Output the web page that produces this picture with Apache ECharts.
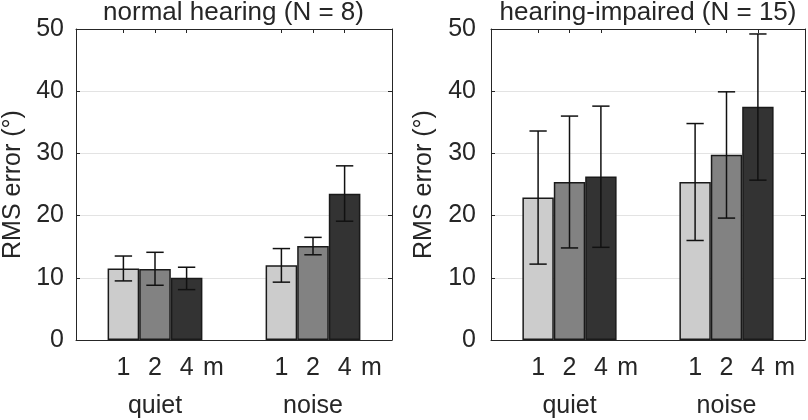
<!DOCTYPE html>
<html>
<head>
<meta charset="utf-8">
<script src="https://cdn.jsdelivr.net/npm/echarts@6/dist/echarts.min.js"></script>
<style>html,body{margin:0;padding:0;background:#fff}#c{width:808px;height:420px}</style>
</head>
<body>
<div id="c"></div>
<script>
// ---- data ----
const conditions = ['quiet', 'noise'];
const distances = ['1', '2', '4'];
const unitLabel = 'm';
const yTicks = [0, 10, 20, 30, 40, 50];
const panelTitles = ['normal hearing (N = 8)', 'hearing-impaired (N = 15)'];
const yAxisTitle = 'RMS error (°)';
// order: quiet 1,2,4 then noise 1,2,4
const nhMean = [11.5, 11.4, 10.0, 12.0, 15.1, 23.5];
const nhLow  = [9.5, 8.8, 8.1, 9.3, 13.7, 19.1];
const nhHigh = [13.5, 14.1, 11.7, 14.7, 16.5, 28.0];
const hiMean = [22.9, 25.4, 26.3, 25.4, 29.8, 37.5];
const hiLow  = [12.2, 14.8, 14.9, 16.0, 19.6, 25.7];
const hiHigh = [33.6, 36.0, 37.6, 34.8, 39.9, 49.2];

// ---- styles ----
const FONT = 'Liberation Sans';
const TXT = '#262626';
const barColors = ['#cccccc', '#828282', '#333333'];
const grids = [
  {left: 75, top: 29, width: 317, height: 311},
  {left: 491, top: 29, width: 314, height: 311}
];
const BAR_FRAC = 0.2;   // bar width as fraction of category band
const CAP_FRAC = 0.055; // half cap width as fraction of band

// tick positions in value-space (category i centre = i+1)
const barPos = [];
conditions.forEach((c, ci) => distances.forEach((d, di) => barPos.push(ci + 1 + (di - 1) * BAR_FRAC)));
const labelPos = [];
const labelTxt = [];
conditions.forEach((c, ci) => {
  distances.forEach((d, di) => { labelPos.push(ci + 1 + (di - 1) * BAR_FRAC); labelTxt.push(d); });
  labelPos.push(ci + 1 + 0.37); labelTxt.push(unitLabel);
});
function lookup(v) {
  for (let i = 0; i < labelPos.length; i++) if (Math.abs(labelPos[i] - v) < 1e-6) return labelTxt[i];
  return '';
}

const panels = [
  {mean: nhMean, low: nhLow, high: nhHigh},
  {mean: hiMean, low: hiLow, high: hiHigh}
];

const option = {
  animation: false,
  backgroundColor: '#fff',
  title: [],
  grid: [],
  xAxis: [],
  yAxis: [],
  series: []
};

panels.forEach((p, pi) => {
  const g = grids[pi];
  option.grid.push({left: g.left, top: g.top, width: g.width, height: g.height, containLabel: false});
  option.title.push({
    text: panelTitles[pi], left: g.left + g.width / 2, top: 0, textAlign: 'center', padding: 0,
    textStyle: {fontFamily: FONT, fontSize: 26, fontWeight: 'normal', color: TXT}
  });
  const xBase = option.xAxis.length;
  // category axis (bars + condition labels)
  option.xAxis.push({
    type: 'category', gridIndex: pi, data: conditions, boundaryGap: true,
    axisLine: {show: true, lineStyle: {color: TXT, width: 1}},
    axisTick: {show: false},
    axisLabel: {margin: 54, fontFamily: FONT, fontSize: 25, color: TXT},
    splitLine: {show: false}
  });
  // value axis for distance ticks/labels (bottom)
  option.xAxis.push({
    type: 'value', gridIndex: pi, min: 0.5, max: 2.5, position: 'bottom',
    axisLine: {show: false},
    axisTick: {show: true, inside: true, length: 4, customValues: barPos, lineStyle: {color: TXT}},
    axisLabel: {show: true, margin: 16, customValues: labelPos, formatter: v => lookup(v),
      fontFamily: FONT, fontSize: 25, color: TXT},
    splitLine: {show: false}
  });
  // top axis
  option.xAxis.push({
    type: 'value', gridIndex: pi, min: 0.5, max: 2.5, position: 'top',
    axisLine: {show: true, lineStyle: {color: TXT, width: 1}},
    axisTick: {show: true, inside: true, length: 4, customValues: barPos, lineStyle: {color: TXT}},
    axisLabel: {show: false},
    splitLine: {show: false}
  });
  const yBase = option.yAxis.length;
  option.yAxis.push({
    type: 'value', gridIndex: pi, min: yTicks[0], max: yTicks[yTicks.length - 1], interval: 10, position: 'left',
    name: yAxisTitle, nameLocation: 'middle', nameGap: pi === 0 ? 50 : 54,
    nameTextStyle: {fontFamily: FONT, fontSize: 25, color: TXT},
    axisLine: {show: true, lineStyle: {color: TXT, width: 1}},
    axisTick: {show: true, inside: true, length: 4, lineStyle: {color: TXT}},
    axisLabel: {margin: pi === 0 ? 12 : 15, fontFamily: FONT, fontSize: 25, color: TXT},
    splitLine: {show: true, lineStyle: {color: '#e3e3e3', width: 1}}
  });
  option.yAxis.push({
    type: 'value', gridIndex: pi, min: yTicks[0], max: yTicks[yTicks.length - 1], interval: 10, position: 'right',
    axisLine: {show: true, lineStyle: {color: TXT, width: 1}},
    axisTick: {show: true, inside: true, length: 4, lineStyle: {color: TXT}},
    axisLabel: {show: false},
    splitLine: {show: false}
  });
  distances.forEach((d, di) => {
    option.series.push({
      type: 'bar', name: d + ' m', xAxisIndex: xBase, yAxisIndex: yBase,
      data: conditions.map((c, ci) => p.mean[ci * distances.length + di]),
      barWidth: (BAR_FRAC * 100) + '%', barGap: '0%',
      itemStyle: {color: barColors[di], borderColor: '#1a1a1a', borderWidth: 1.5},
      z: 2
    });
  });
  const errData = [];
  conditions.forEach((c, ci) => distances.forEach((d, di) => {
    const k = ci * distances.length + di;
    errData.push([ci, di, p.low[k], p.high[k]]);
  }));
  option.series.push({
    type: 'custom', xAxisIndex: xBase, yAxisIndex: yBase, z: 5,
    encode: {x: 0, y: [2, 3]},
    data: errData,
    renderItem: function (params, api) {
      const ci = api.value(0), di = api.value(1);
      const band = api.size([1, 0])[0];
      const cx = api.coord([ci, 0])[0] + (di - 1) * band * BAR_FRAC;
      const yl = api.coord([ci, api.value(2)])[1];
      const yh = api.coord([ci, api.value(3)])[1];
      const hw = band * CAP_FRAC;
      const st = {stroke: '#111', lineWidth: 1.5};
      return {type: 'group', children: [
        {type: 'line', shape: {x1: cx, y1: yl, x2: cx, y2: yh}, style: st},
        {type: 'line', shape: {x1: cx - hw, y1: yl, x2: cx + hw, y2: yl}, style: st},
        {type: 'line', shape: {x1: cx - hw, y1: yh, x2: cx + hw, y2: yh}, style: st}
      ]};
    }
  });
});

const chart = echarts.init(document.getElementById('c'), null, {renderer: 'canvas'});
chart.setOption(option);
</script>
</body>
</html>
